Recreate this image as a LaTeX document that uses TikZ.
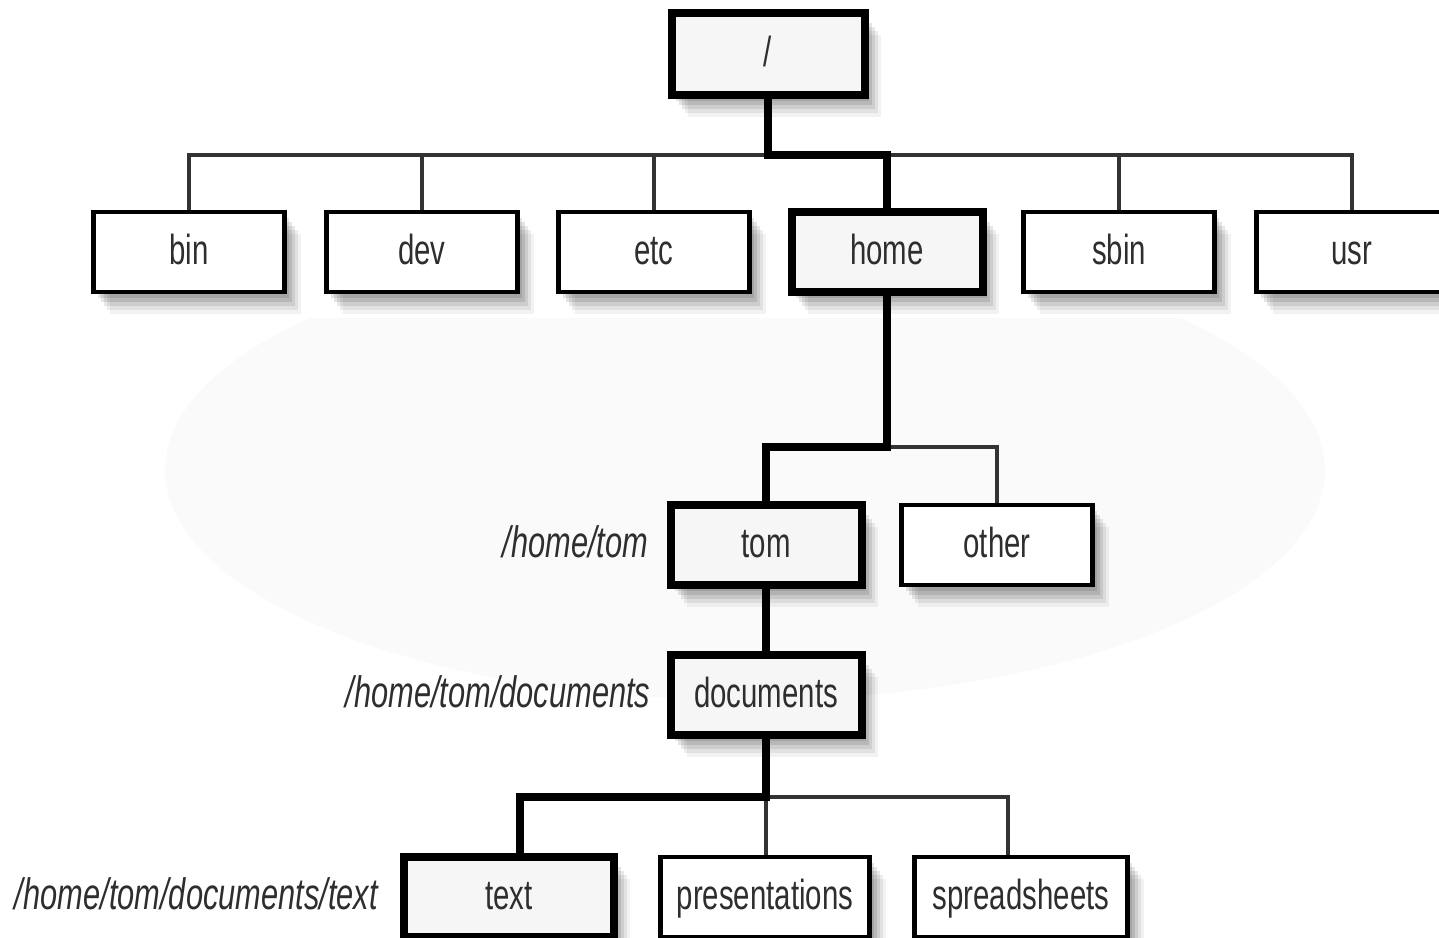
\documentclass[tikz,border=0pt]{standalone}
\usepackage{fontspec}
\setmainfont{Liberation Sans}[FakeStretch=0.7]
\usetikzlibrary{shadows,calc}
\definecolor{txt}{HTML}{2E2E2E}
\definecolor{lightfill}{HTML}{F6F6F6}
\begin{document}
\begin{tikzpicture}[x=1pt,y=-1pt,
  boxshadow/.style={
    general shadow={fill=black,opacity=.10,shadow xshift=4pt,shadow yshift=-6pt},
    general shadow={fill=black,opacity=.10,shadow xshift=7pt,shadow yshift=-10pt},
    general shadow={fill=black,opacity=.09,shadow xshift=10pt,shadow yshift=-14pt},
    general shadow={fill=black,opacity=.07,shadow xshift=13pt,shadow yshift=-18pt},
    general shadow={fill=black,opacity=.05,shadow xshift=16pt,shadow yshift=-22pt}},
  box/.style={draw=black, line width=4.5pt, fill=white, minimum width=191pt,
    minimum height=80pt, inner sep=0pt, text=txt, text height=24pt, text depth=0pt,
    font=\fontsize{42}{48}\selectfont, boxshadow},
  bbox/.style={box, line width=8pt, fill=lightfill},
  thinline/.style={line width=4.5pt, draw=black!80, line join=miter},
  thickline/.style={line width=8pt, draw=black, line join=miter},
  lab/.style={font=\itshape\fontsize{44}{50}\selectfont, text=txt, anchor=east,
    inner sep=0pt, text height=24pt, text depth=0pt}]
\useasboundingbox (0,0) rectangle (1439,937);
\clip (0,0) rectangle (1439,937);

% faint background area
\begin{scope}
  \clip (0,318) rectangle (1439,937);
  \fill[black!2] (745,470) ellipse [x radius=580, y radius=230];
\end{scope}

% nodes
\node[bbox, minimum width=193pt, minimum height=82pt] (root) at (768,54) {/};
\node[box] (bin)  at (189,252) {bin};
\node[box] (dev)  at (422,252) {dev};
\node[box] (etc)  at (654,252) {etc};
\node[bbox] (home) at (887,252) {home};
\node[box] (sbin) at (1119,252) {sbin};
\node[box] (usr)  at (1352,252) {usr};

\node[bbox] (tom)   at (766,545) {tom};
\node[box]  (other) at (997,545) {other};
\node[bbox] (documents) at (766,695) {documents};

\node[bbox, minimum width=210pt] (text) at (509,897) {text};
\node[box, minimum width=209pt] (presentations) at (765,897) {presentations};
\node[box, minimum width=213pt] (spreadsheets) at (1021,897) {spreadsheets};

% path labels
\node[lab] (ltom) at ($(tom.west)+(-18,0)$) {/home/tom};
\node[lab] (ldoc) at ($(documents.west)+(-16,0)$) {/home/tom/documents};
\node[lab] (ltext) at ($(text.west)+(-22,0)$) {/home/tom/documents/text};

% connectors
\coordinate (bus) at (768,155);
\draw[thinline] (bin.north) -- (bin.north |- bus) -- (usr.north |- bus) -- (usr.north);
\draw[thinline] (dev.north) -- (dev.north |- bus);
\draw[thinline] (etc.north) -- (etc.north |- bus);
\draw[thinline] (sbin.north) -- (sbin.north |- bus);
\draw[thickline] (root.south) -- (bus) -| (home.north);

\coordinate (hj) at (887,447);
\draw[thinline] (hj) -| (other.north);
\draw[thickline] (home.south) -- (hj) -| (tom.north);

\draw[thickline] (tom.south) -- (documents.north);

\coordinate (dj) at (766,797);
\coordinate (tdrop) at (520,797);
\coordinate (sdrop) at (1008,797);
\draw[thinline] (dj) -- (dj |- presentations.north);
\draw[thinline] (dj) -- (sdrop) -- (sdrop |- spreadsheets.north);
\draw[thickline] (documents.south) -- (dj) -- (tdrop) -- (tdrop |- text.north);
\end{tikzpicture}
\end{document}
